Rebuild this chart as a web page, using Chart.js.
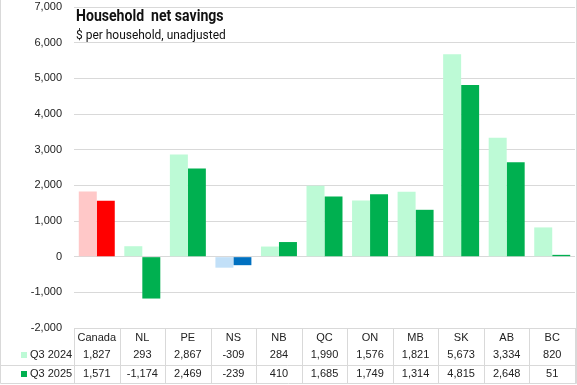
<!DOCTYPE html>
<html><head><meta charset="utf-8">
<script src="https://cdn.jsdelivr.net/npm/chart.js@4/dist/chart.umd.min.js"></script>
<style>
html,body{margin:0;padding:0;background:#fff;}
#wrap{position:relative;width:577px;height:385px;}
#t1{position:absolute;left:76px;top:6px;font:bold 16px Roboto,sans-serif;color:#111;white-space:pre;transform:scaleX(0.88);transform-origin:0 0;}
#t2{position:absolute;left:76px;top:27px;font:13px Roboto,sans-serif;color:#111;white-space:pre;transform:scaleX(0.92);transform-origin:0 0;}
</style></head><body>
<div id="wrap"><canvas id="c" width="577" height="385"></canvas>
<div id="t1">Household  net savings</div>
<div id="t2">$ per household, unadjusted</div></div>
<script>
const categories = ["Canada","NL","PE","NS","NB","QC","ON","MB","SK","AB","BC"];
const seriesNames = ["Q3 2024","Q3 2025"];
const q3_2024 = [1827,293,2867,-309,284,1990,1576,1821,5673,3334,820];
const q3_2025 = [1571,-1174,2469,-239,410,1685,1749,1314,4815,2648,51];
const yTicks = [-2000,-1000,0,1000,2000,3000,4000,5000,6000,7000];

const lightCols = categories.map(c => c==="Canada" ? "#FFC8C8" : c==="NS" ? "#C2E0F8" : "#BDFAD6");
const darkCols = categories.map(c => c==="Canada" ? "#FF0000" : c==="NS" ? "#0070C0" : "#00B050");
const legendCols = ["#BDFAD6","#00B050"];
const fmt = v => v.toLocaleString("en-US");

const tablePlugin = {
  id:"table",
  afterDraw(chart){
    const ctx = chart.ctx, x = chart.scales.x, a = chart.chartArea;
    const top = a.bottom, rowSep = 365, bottom = 383;
    const left = a.left, right = a.right;
    const n = categories.length, w = (right-left)/n;
    ctx.save();
    ctx.strokeStyle = "#d9d9d9"; ctx.lineWidth = 1;
    ctx.beginPath();
    for(let i=0;i<=n;i++){ const px = Math.round(left + i*w)+0.5; ctx.moveTo(px, top); ctx.lineTo(px, bottom); }
    ctx.moveTo(0, rowSep+0.5); ctx.lineTo(right, rowSep+0.5);
    ctx.stroke();
    ctx.beginPath();
    ctx.moveTo(0.5,0); ctx.lineTo(0.5,bottom+0.5); ctx.lineTo(576.5,bottom+0.5); ctx.lineTo(576.5,0);
    ctx.stroke();
    ctx.fillStyle = "#222";
    ctx.font = '11px "Liberation Sans", sans-serif';
    ctx.textAlign = "center"; ctx.textBaseline = "middle";
    const rows = [q3_2024, q3_2025], ys = [355, 374];
    categories.forEach((c,i)=>{
      const cx = x.getPixelForValue(i);
      ctx.fillText(c, cx, 338);
      rows.forEach((r,j)=> ctx.fillText(fmt(r[i]), cx, ys[j]));
    });
    ctx.textAlign = "left";
    seriesNames.forEach((s,j)=>{
      ctx.fillStyle = legendCols[j]; ctx.fillRect(21, ys[j]-3, 6, 6);
      ctx.fillStyle = "#222"; ctx.fillText(s, 30, ys[j]);
    });
    ctx.restore();
  }
};

new Chart(document.getElementById("c"), {
  type:"bar",
  data:{ labels:categories, datasets:[
    {label:seriesNames[0], data:q3_2024, backgroundColor:lightCols, categoryPercentage:0.79, barPercentage:1},
    {label:seriesNames[1], data:q3_2025, backgroundColor:darkCols, categoryPercentage:0.79, barPercentage:1}
  ]},
  options:{
    responsive:false, animation:false,
    layout:{padding:{top:7,bottom:57,right:2,left:0}},
    plugins:{legend:{display:false}, tooltip:{enabled:false}},
    scales:{
      x:{display:false},
      y:{min:-2000,max:7000,
        afterBuildTicks(s){ s.ticks = yTicks.map(v=>({value:v})); },
        afterFit(s){ s.width = 74; s.paddingTop = 0; s.paddingBottom = 0; },
        border:{display:false},
        grid:{color:"#d9d9d9", drawTicks:false},
        ticks:{padding:12, color:"#222", font:{family:'"Liberation Sans", sans-serif', size:11}, callback:v=>fmt(v)}
      }
    }
  },
  plugins:[tablePlugin]
});
</script></body></html>
